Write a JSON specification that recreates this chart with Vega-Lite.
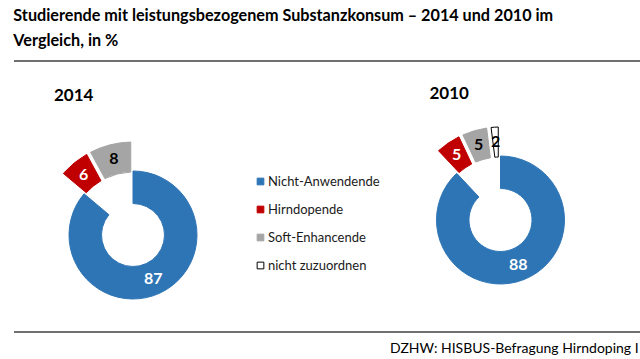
{
  "$schema": "https://vega.github.io/schema/vega-lite/v6.json",
  "padding": {"left": 13, "top": 8, "right": 0, "bottom": 0},
  "bounds": "full",
  "datasets": {
    "donut": [
      {"year": "2014", "category": "Nicht-Anwendende", "order": 1, "value": 87},
      {"year": "2014", "category": "Hirndopende", "order": 2, "value": 6},
      {"year": "2014", "category": "Soft-Enhancende", "order": 3, "value": 8},
      {"year": "2010", "category": "Nicht-Anwendende", "order": 1, "value": 88},
      {"year": "2010", "category": "Hirndopende", "order": 2, "value": 5},
      {"year": "2010", "category": "Soft-Enhancende", "order": 3, "value": 5},
      {"year": "2010", "category": "nicht zuzuordnen", "order": 4, "value": 2}
    ],
    "line": [{"rule": "line"}]
  },
  "title": {
    "text": ["Studierende mit leistungsbezogenem Substanzkonsum – 2014 und 2010 im", "Vergleich, in %"],
    "anchor": "start",
    "font": "Lato",
    "fontSize": 16.2,
    "fontWeight": "bold",
    "lineHeight": 25,
    "offset": 11,
    "color": "#000000"
  },
  "spacing": 0,
  "vconcat": [
    {
      "data": {"name": "line"},
      "width": 627,
      "height": 23.5,
      "mark": {"type": "rule", "color": "#404040", "strokeWidth": 1.3},
      "encoding": {"y": {"datum": 1, "type": "quantitative", "scale": {"domain": [0, 1]}, "axis": null}}
    },
    {
      "bounds": "flush",
      "spacing": 129.5,
      "hconcat": [
        {
          "data": {"name": "donut"},
          "transform": [{"filter": "datum.year === '2014'"}],
          "width": 238,
          "height": 192,
          "title": {"text": "2014", "anchor": "start", "frame": "group", "dx": 40, "offset": 34, "font": "Lato", "fontSize": 17, "fontWeight": "bold", "color": "#000000"},
          "encoding": {
            "theta": {"field": "value", "type": "quantitative", "stack": true},
            "order": {"field": "order", "type": "quantitative"}
          },
          "layer": [
            {
              "mark": {"type": "arc", "outerRadius": 64, "innerRadius": 31.5},
              "encoding": {
                "fill": {"field": "category", "type": "nominal", "scale": {"domain": ["Nicht-Anwendende", "Hirndopende", "Soft-Enhancende", "nicht zuzuordnen"], "range": ["#2E75B6", "#C00000", "#A5A5A5", "#FFFFFF"]}, "legend": {"orient": "none", "legendX": 240, "legendY": 114, "title": null, "symbolType": "square", "symbolSize": 45, "symbolStrokeWidth": 1, "labelFont": "Lato", "labelFontSize": 13, "labelColor": "#1a1a1a", "rowPadding": 14, "labelOffset": 1}},
                "stroke": {"field": "category", "type": "nominal", "scale": {"domain": ["Nicht-Anwendende", "Hirndopende", "Soft-Enhancende", "nicht zuzuordnen"], "range": ["#2E75B6", "#C00000", "#A5A5A5", "#000000"]}, "legend": {"orient": "none", "legendX": 240, "legendY": 114, "title": null, "symbolType": "square", "symbolSize": 45, "symbolStrokeWidth": 1, "labelFont": "Lato", "labelFontSize": 13, "labelColor": "#1a1a1a", "rowPadding": 14, "labelOffset": 1}},
                "opacity": {"condition": {"test": "datum.category === 'Nicht-Anwendende'", "value": 1}, "value": 0}
              }
            },
            {
              "mark": {"type": "arc", "outerRadius": 93, "innerRadius": 63, "padAngle": 0.04},
              "encoding": {
                "fill": {"field": "category", "type": "nominal"},
                "stroke": {"field": "category", "type": "nominal"},
                "opacity": {"condition": {"test": "datum.category !== 'Nicht-Anwendende'", "value": 1}, "value": 0}
              }
            },
            {
              "mark": {"type": "text", "radius": 48, "font": "Lato", "fontSize": 16, "fontWeight": "bold", "color": "#FFFFFF"},
              "encoding": {
                "text": {"field": "value", "type": "quantitative"},
                "detail": {"field": "category", "type": "nominal"},
                "opacity": {"condition": {"test": "datum.category === 'Nicht-Anwendende'", "value": 1}, "value": 0}
              }
            },
            {
              "mark": {"type": "text", "radius": 78, "font": "Lato", "fontSize": 16, "fontWeight": "bold"},
              "encoding": {
                "text": {"field": "value", "type": "quantitative"},
                "detail": {"field": "category", "type": "nominal"},
                "color": {"condition": {"test": "datum.category === 'Hirndopende'", "value": "#FFFFFF"}, "value": "#000000"},
                "opacity": {"condition": {"test": "datum.category !== 'Nicht-Anwendende'", "value": 1}, "value": 0}
              }
            }
          ]
        },
        {
          "data": {"name": "donut"},
          "transform": [{"filter": "datum.year === '2010'"}],
          "width": 238,
          "height": 162,
          "title": {"text": "2010", "anchor": "start", "frame": "group", "dx": 48, "offset": 22, "font": "Lato", "fontSize": 17, "fontWeight": "bold", "color": "#000000"},
          "encoding": {
            "theta": {"field": "value", "type": "quantitative", "stack": true},
            "order": {"field": "order", "type": "quantitative"}
          },
          "layer": [
            {
              "mark": {"type": "arc", "outerRadius": 64, "innerRadius": 31.5},
              "encoding": {
                "fill": {"field": "category", "type": "nominal"},
                "stroke": {"field": "category", "type": "nominal"},
                "opacity": {"condition": {"test": "datum.category === 'Nicht-Anwendende'", "value": 1}, "value": 0}
              }
            },
            {
              "mark": {"type": "arc", "outerRadius": 93, "innerRadius": 63, "padAngle": 0.04},
              "encoding": {
                "fill": {"field": "category", "type": "nominal"},
                "stroke": {"field": "category", "type": "nominal"},
                "opacity": {"condition": {"test": "datum.category !== 'Nicht-Anwendende'", "value": 1}, "value": 0}
              }
            },
            {
              "mark": {"type": "text", "radius": 48, "font": "Lato", "fontSize": 16, "fontWeight": "bold", "color": "#FFFFFF"},
              "encoding": {
                "text": {"field": "value", "type": "quantitative"},
                "detail": {"field": "category", "type": "nominal"},
                "opacity": {"condition": {"test": "datum.category === 'Nicht-Anwendende'", "value": 1}, "value": 0}
              }
            },
            {
              "mark": {"type": "text", "radius": 78, "font": "Lato", "fontSize": 16, "fontWeight": "bold"},
              "encoding": {
                "text": {"field": "value", "type": "quantitative"},
                "detail": {"field": "category", "type": "nominal"},
                "color": {"condition": {"test": "datum.category === 'Hirndopende'", "value": "#FFFFFF"}, "value": "#000000"},
                "opacity": {"condition": {"test": "datum.category !== 'Nicht-Anwendende'", "value": 1}, "value": 0}
              }
            }
          ]
        }
      ]
    },
    {
      "data": {"name": "line"},
      "width": 627,
      "height": 1,
      "title": {"text": "DZHW: HISBUS-Befragung Hirndoping I", "orient": "bottom", "anchor": "end", "dx": -3, "offset": 9, "font": "Lato", "fontSize": 14, "fontWeight": "normal", "color": "#000000"},
      "mark": {"type": "rule", "color": "#404040", "strokeWidth": 1.3},
      "encoding": {"y": {"datum": 1, "type": "quantitative", "scale": {"domain": [0, 1]}, "axis": null}}
    }
  ],
  "config": {
    "font": "Lato",
    "view": {"stroke": null}
  }
}
